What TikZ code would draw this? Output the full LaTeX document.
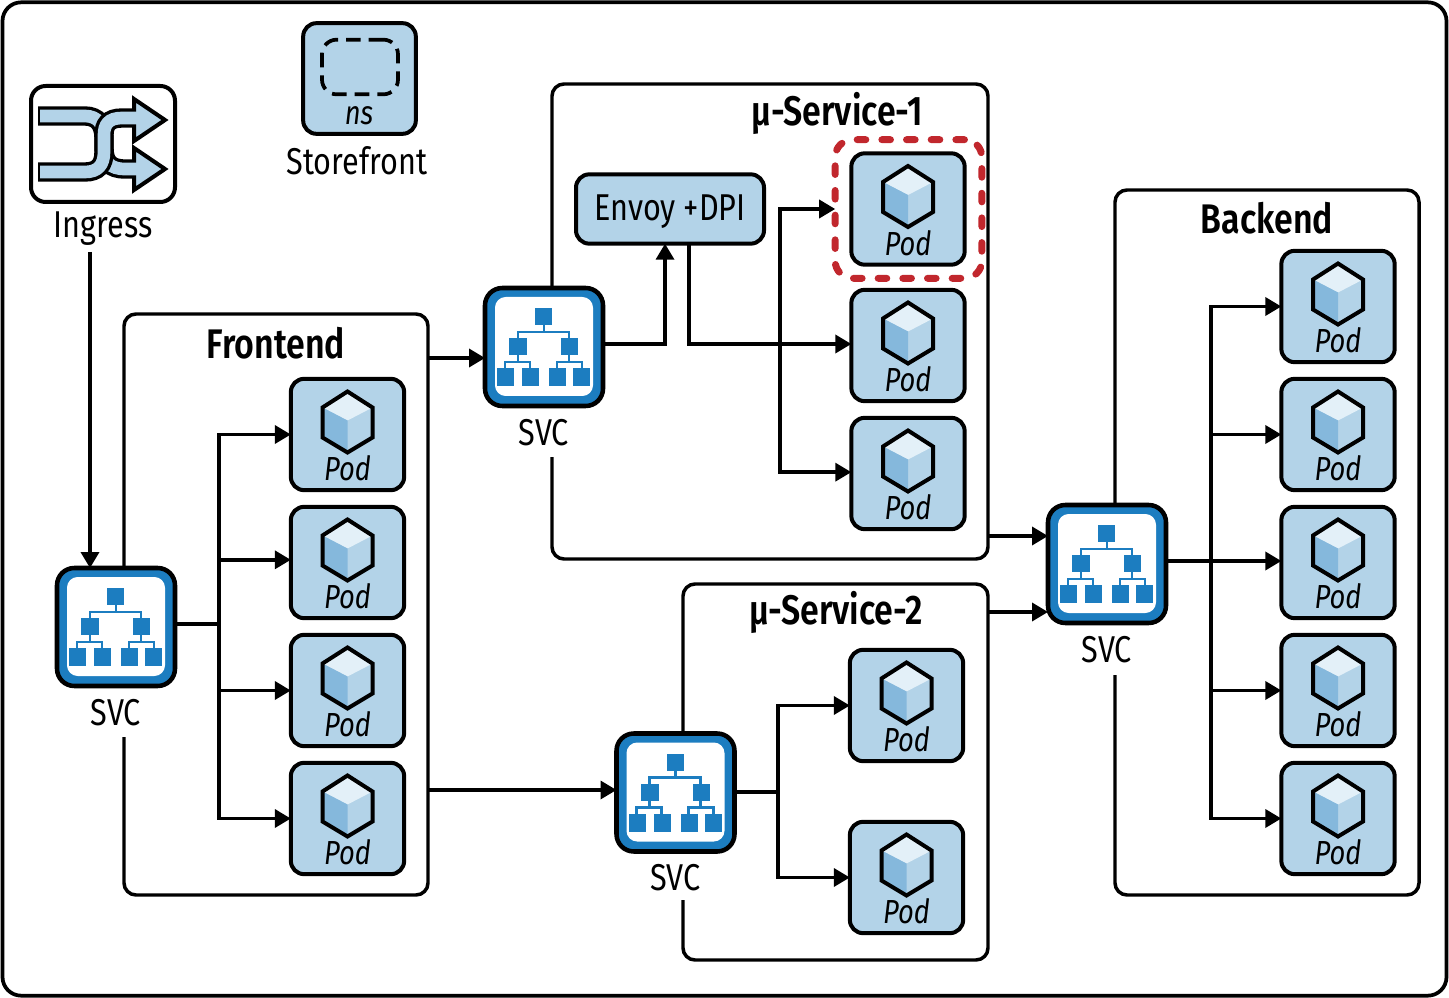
\documentclass[tikz,border=0pt]{standalone}
\usepackage{fontspec}
\setmainfont[FakeStretch=0.82,ItalicFont={Fira Sans Italic},BoldFont={Fira Sans SemiBold}]{Fira Sans}
\usetikzlibrary{arrows.meta}
\definecolor{lblue}{HTML}{B3D3E8}
\definecolor{mblue}{HTML}{85B8DC}
\definecolor{dblue}{HTML}{1C7DC0}
\definecolor{tface}{HTML}{E3F0F8}
\definecolor{redd}{HTML}{C1272D}
\tikzset{
  x=0.75pt,y=-0.75pt,
  conn/.style={line width=2.6pt,black,line join=miter},
  arr/.style={conn,-{Triangle[length=12pt,width=13.5pt]}},
  framebox/.style={line width=2.6pt,black,rounded corners=9pt},
  podbox/.style={draw=black,fill=lblue,line width=3pt,rounded corners=10pt,minimum width=85pt,minimum height=83.5pt,inner sep=0,outer sep=0},
  svcbox/.style={draw=black,fill=dblue,line width=3.4pt,rounded corners=13pt,minimum width=88.5pt,minimum height=88.5pt,inner sep=0,outer sep=0},
  lbl/.style={font=\fontsize{28}{32}\selectfont,inner sep=0},
  ttl/.style={font=\fontsize{31}{35}\selectfont\bfseries,inner sep=0},
  podtxt/.style={font=\fontsize{25}{29}\selectfont\itshape,inner sep=0},
  sq/.style={fill=dblue},
  pics/cube/.style={code={
    \fill[tface] (0,-43) -- (25,-27) -- (0,-14) -- (-25,-27) -- cycle;
    \fill[mblue] (-25,-27) -- (0,-14) -- (0,18) -- (-25,3) -- cycle;
    \draw[line width=3pt,line join=miter] (0,-43) -- (25,-27) -- (25,3) -- (0,18) -- (-25,3) -- (-25,-27) -- cycle;
  }},
  pics/tree/.style={code={
    \draw[dblue,line width=1.6pt] (0,-26) -- (0,-15) (-26,-9) -- (-26,-15) -- (25,-15) -- (25,-9)
      (-26,5) -- (-26,15) (-39,21) -- (-39,15) -- (-14,15) -- (-14,21)
      (25,5) -- (25,15) (13,21) -- (13,15) -- (38,15) -- (38,21);
    \fill[sq] (-9,-39) rectangle (8,-22);
    \fill[sq] (-35,-9) rectangle (-17,8);
    \fill[sq] (17,-9) rectangle (34,8);
    \fill[sq] (-47,21) rectangle (-30,39);
    \fill[sq] (-22,21) rectangle (-5,39);
    \fill[sq] (5,21) rectangle (22,39);
    \fill[sq] (29,21) rectangle (46,39);
  }},
  pics/shuffle/.style={code={
    % lower arrow, passes beneath
    \fill[lblue,draw=black,line width=3pt,line join=miter] (134,148) -- (165,169) -- (134,190) -- cycle;
    \draw[line width=14.5pt,black] (38,116) -- (85,116) .. controls (98,116) and (104,125) .. (104,138) -- (104,148) .. controls (104,162) and (110,169) .. (125,169) -- (134,169);
    \draw[line width=9.5pt,lblue] (40,116) -- (85,116) .. controls (98,116) and (104,125) .. (104,138) -- (104,148) .. controls (104,162) and (110,169) .. (125,169) -- (138,169);
    % upper arrow, on top
    \fill[lblue,draw=black,line width=3pt,line join=miter] (134,99) -- (165,120) -- (134,141) -- cycle;
    \draw[line width=14.5pt,black] (38,172) -- (85,172) .. controls (98,172) and (104,165) .. (104,152) -- (104,135) .. controls (104,125) and (108,118) .. (122,118) -- (134,118);
    \draw[line width=9.5pt,lblue] (40,172) -- (85,172) .. controls (98,172) and (104,165) .. (104,152) -- (104,135) .. controls (104,125) and (108,118) .. (122,118) -- (138,118);
  }},
}
\newcommand{\podn}[3]{%
  \node[podbox] (#1) at (#2,#3) {};
  \pic at (#1) {cube};
  \node[podtxt] (#1-t) at ([yshift=-25.5pt]#1) {Pod};
}
\newcommand{\svcn}[3]{%
  \node[svcbox] (#1) at (#2,#3) {};
  \fill[white,rounded corners=8pt] (#2-49,#3-50) rectangle (#2+49,#3+49);
  \pic at (#1) {tree};
  \node[lbl] (#1-t) at ([yshift=-64pt]#1) {SVC};
}
\begin{document}
\begin{tikzpicture}
\useasboundingbox (0,0) rectangle (1449,998);
\node[draw=black,line width=2.8pt,rounded corners=14pt,minimum width=1083pt,minimum height=745pt,inner sep=0,outer sep=0] (outer) at (724.5,499) {};

% ingress
\node[draw=black,line width=3pt,rounded corners=11pt,minimum width=108pt,minimum height=87pt,inner sep=0,outer sep=0] (ing) at (103,144) {};
\pic at (0,0) {shuffle};
\node[lbl] (ingt) at (103,229) {Ingress};

% namespace legend
\node[podbox,minimum width=84.5pt,minimum height=83pt] (ns) at (359.5,78.5) {};
\node[draw=black,line width=2.8pt,dash pattern=on 11pt off 6pt,rounded corners=11pt,minimum width=57pt,minimum height=41pt,inner sep=0,outer sep=0] (nsd) at (360,67) {};
\node[podtxt] (nst) at (359,116) {ns};
\node[lbl] (sf) at (357,161) {Storefront};

% services
\svcn{sa}{116}{627}
\svcn{sb}{544}{347}
\svcn{sc}{675.5}{792.5}
\svcn{sd}{1107}{564}

% pods
\podn{f1}{347.5}{434.5}
\podn{f2}{347.5}{562.5}
\podn{f3}{347.5}{690.5}
\podn{f4}{347.5}{818.5}
\podn{m1}{908}{209}
\podn{m2}{908}{345.5}
\podn{m3}{908}{473.5}
\podn{n1}{906.5}{705.5}
\podn{n2}{906.5}{877.5}
\podn{b1}{1338}{306.5}
\podn{b2}{1338}{434.5}
\podn{b3}{1338}{562.5}
\podn{b4}{1338}{690.5}
\podn{b5}{1338}{818.5}

% envoy
\node[podbox,minimum width=141pt,minimum height=52pt] (env) at (670,209) {};
\node[lbl] (envt) at (670,212) {Envoy +DPI};

% red selection
\node[draw=redd,line width=5.2pt,line cap=round,dash pattern=on 6.5pt off 12pt,rounded corners=13pt,minimum width=110pt,minimum height=104pt,inner sep=0,outer sep=0] (sel) at (908.5,209) {};

% frames
\draw[framebox] (124,566) -- (124,314) -- (428,314) -- (428,895) -- (124,895) -- (124,737);
\draw[framebox] (552,287) -- (552,84) -- (988,84) -- (988,559) -- (552,559) -- (552,457);
\draw[framebox] (683,733) -- (683,584) -- (988,584) -- (988,960) -- (683,960) -- (683,900);
\draw[framebox] (1115,503) -- (1115,190) -- (1419,190) -- (1419,895) -- (1115,895) -- (1115,675);

% titles
\node[ttl] (tf) at (276,343) {Frontend};
\node[ttl] (tm1) at (837,113) {μ-Service-1};
\node[ttl] (tm2) at (836,612) {μ-Service-2};
\node[ttl] (tb) at (1267,218) {Backend};

% junction coordinates
\coordinate (ja) at (219,624);
\coordinate (jb) at (665,344);
\coordinate (je) at (689,245);
\coordinate (jm) at (780,344);
\coordinate (jc) at (778,792);
\coordinate (jd) at (1211,561);
\coordinate (o1) at (428,358);
\coordinate (o2) at (428,790);
\coordinate (o3) at (988,536);
\coordinate (o4) at (988,612);
\coordinate (ingout) at (90,252);

% connectors
\draw[arr] (ingout) -- (ingout |- sa.north);
\draw[conn] (sa.east |- ja) -- (ja);
\draw[arr] (ja) |- (f1.west);
\draw[arr] (ja) |- ([yshift=2pt]f2.west);
\draw[arr] (ja) |- (f3.west);
\draw[arr] (ja) |- (f4.west);
\draw[arr] (o1) -- (sb.west |- o1);
\draw[arr] (o2) -- (sc.west |- o2);
\draw[arr] (sb.east |- jb) -| (env.south -| jb);
\draw[arr] (je) |- (m2.west |- jb);
\draw[arr] (jm) |- (sel.west);
\draw[arr] (jm) |- ([yshift=1pt]m3.west);
\draw[arr] (o3) -- (sd.west |- o3);
\draw[arr] (o4) -- (sd.west |- o4);
\draw[conn] (sc.east |- jc) -- (jc);
\draw[arr] (jc) |- (n1.west);
\draw[arr] (jc) |- (n2.west);
\draw[arr] (sd.east |- jd) -- (b3.west |- jd);
\draw[arr] (jd) |- (b1.west);
\draw[arr] (jd) |- (b2.west);
\draw[arr] (jd) |- (b4.west);
\draw[arr] (jd) |- (b5.west);
\end{tikzpicture}
\end{document}
